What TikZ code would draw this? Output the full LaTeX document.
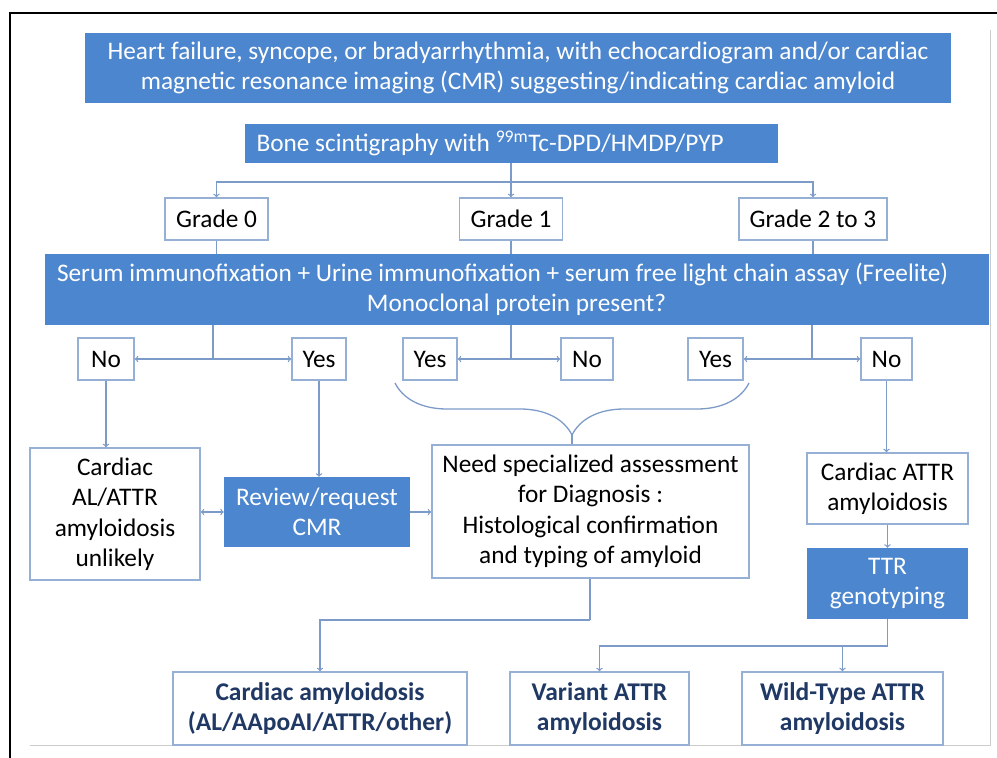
\documentclass[tikz,border=0pt]{standalone}
\usepackage{fontspec}
\setmainfont{Carlito}
\usetikzlibrary{arrows}
\usetikzlibrary{decorations.pathreplacing}
\definecolor{boxblue}{RGB}{76,134,206}
\definecolor{edgeblue}{RGB}{150,175,212}
\definecolor{lineblue}{RGB}{125,155,200}
\definecolor{navy}{RGB}{32,56,100}
\tikzset{
  sz/.style 2 args={minimum width=#1pt, minimum height=#2pt, inner sep=0pt},
  bluebox/.style={fill=boxblue, text=white},
  whitebox/.style={draw=edgeblue, line width=1.5pt, fill=white, text=black},
  endbox/.style={whitebox, text=navy, font=\fontsize{25.5}{30}\selectfont\bfseries},
  link/.style={draw=lineblue, line width=1.3pt},
}

\begin{document}
\begin{tikzpicture}[x=1pt, y=-1pt, >=to, every node/.style={font=\fontsize{25.3}{30.5}\selectfont, align=center}]
\useasboundingbox (0,0) rectangle (997,758);
% frame
\draw[line width=2pt] (10,758) -- (10,13) -- (997,13);
\draw[black!20, line width=1pt] (30,745) -- (990,745) -- (990,30);

% top of the chart
\node[bluebox, sz={866}{70}] (top) at (518,68) {Heart failure, syncope, or bradyarrhythmia, with echocardiogram and/or cardiac\\magnetic resonance imaging (CMR) suggesting/indicating cardiac amyloid};
\node[bluebox, sz={533}{39}, text width=509pt, align=flush left] (bone) at (511,143.5) {Bone scintigraphy with \textsuperscript{99m}Tc-DPD/HMDP/PYP};
\node[whitebox, sz={103}{42}] (g0) at (216.5,219) {Grade 0};
\node[whitebox, sz={103}{42}] (g1) at (511,219) {Grade 1};
\node[whitebox, sz={148}{42}] (g23) at (813,219) {Grade 2 to 3};
\node[bluebox, sz={944}{71}, text width=920pt, align=flush left] (serum) at (517,289.5) {Serum immunofixation + Urine immunofixation + serum free light chain assay (Freelite)\\\hspace*{310pt}Monoclonal protein present?};

% yes / no
\node[whitebox, sz={56}{42}] (no1) at (106,359) {No};
\node[whitebox, sz={54}{42}] (yes1) at (319,359) {Yes};
\node[whitebox, sz={54}{42}] (yes2) at (430,359) {Yes};
\node[whitebox, sz={52}{42}] (no2) at (587,359) {No};
\node[whitebox, sz={55}{42}] (yes3) at (715.5,359) {Yes};
\node[whitebox, sz={51}{42}] (no3) at (886.5,359) {No};

% outcomes
\node[whitebox, sz={170}{132}] (cal) at (115,514) {Cardiac\\AL/ATTR\\amyloidosis\\unlikely};
\node[bluebox, sz={186}{70}] (review) at (317,512) {Review/request\\CMR};
\node[whitebox, sz={317}{133}] (need) at (590.5,511.5) {Need specialized assessment\\for Diagnosis :\\Histological confirmation\\and typing of amyloid};
\node[whitebox, sz={161}{71}] (catr) at (887.5,488.5) {Cardiac ATTR\\amyloidosis};
\node[bluebox, sz={161}{71}] (ttr) at (887.5,583.5) {TTR\\genotyping};
\node[endbox, sz={294}{73}] (ca) at (320,708.5) {Cardiac amyloidosis\\(AL/AApoAI/ATTR/other)};
\node[endbox, sz={179}{73}] (var) at (599.5,708.5) {Variant ATTR\\amyloidosis};
\node[endbox, sz={201}{73}] (wild) at (842.5,708.5) {Wild-Type ATTR\\amyloidosis};

% connectors
\coordinate (j1) at (511,182);
\draw[link] (bone.south) -- (j1);
\draw[link,->] (j1) -| (g0.north);
\draw[link,->] (j1) -- (g1.north);
\draw[link,->] (j1) -| (g23.north);
\foreach \g in {g0,g1,g23} \draw[link] (\g.south) -- (\g.south |- serum.north);

\coordinate (j2) at (213,359);
\coordinate (j3) at (511,359);
\coordinate (j4) at (812,359);
\foreach \j/\a/\b in {j2/no1/yes1, j3/yes2/no2, j4/yes3/no3} {
  \draw[link] (\j |- serum.south) -- (\j);
  \draw[link,->] (\j) -- (\a.east);
  \draw[link,->] (\j) -- (\b.west);
}

\coordinate (bl) at (395,383);
\coordinate (br) at (749,383);
\coordinate (cusp) at (572,435);
\draw[link, decorate, decoration={brace, mirror, amplitude=52pt}] (bl) -- (br);
\draw[link] (cusp) -- (cusp |- need.north);

\draw[link,->] (no1.south) -- (no1.south |- cal.north);
\draw[link,->] (yes1.south) -- (yes1.south |- review.north);
\draw[link,<->] (cal.east |- review.west) -- (review.west);
\draw[link,->] (review.east) -- (review.east -| need.west);
\draw[link,->] (no3.south) -- (no3.south |- catr.north);
\draw[link,->] (catr.south) -- (ttr.north);

\coordinate (j5) at (887.5,646);
\draw[link] (ttr.south) -- (j5);
\draw[link,->] (j5) -| (var.north);
\draw[link,->] (j5) -| (wild.north);
\coordinate (j6) at (590,620);
\draw[link] (j6 |- need.south) -- (j6);
\draw[link,->] (j6) -| (ca.north);
\end{tikzpicture}
\end{document}
